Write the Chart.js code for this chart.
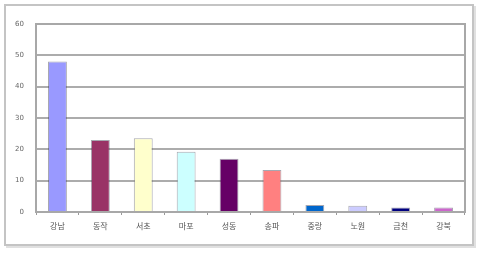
<!DOCTYPE html>
<html><head><meta charset="utf-8">
<script src="https://cdn.jsdelivr.net/npm/chart.js@4"></script>
<style>
html,body{margin:0;padding:0;background:#fff;width:480px;height:253px;overflow:hidden}
#box{position:absolute;left:4px;top:4px;width:466px;height:238px;border:2px solid #c4c4c4;box-shadow:2px 2px 0 #e0e0e0}
#c{position:absolute;left:0;top:0}
</style></head><body>
<div id="box"></div>
<canvas id="c" width="480" height="253"></canvas>
<script>
const categories = ['강남','동작','서초','마포','성동','송파','중랑','노원','금천','강북'];
const values = [48, 23, 23.5, 19.2, 17, 13.4, 2.2, 2, 1.4, 1.4];
const barColors = ['#9999ff','#993366','#ffffcc','#ccffff','#660066','#ff8080','#0066cc','#ccccff','#000080','#cc66cc'];
const yTicks = [0,10,20,30,40,50,60];

const frame = {
  id:'frame',
  afterDraw(chart){
    const a = chart.chartArea, ctx = chart.ctx;
    ctx.save();
    ctx.strokeStyle = '#a8a8a8';
    ctx.lineWidth = 2;
    ctx.strokeRect(a.left, a.top, a.right - a.left, a.bottom - a.top);
    ctx.restore();
  }
};

new Chart(document.getElementById('c'), {
  type:'bar',
  data:{
    labels: categories,
    datasets:[{
      data: values,
      backgroundColor: barColors,
      borderColor: 'rgba(60,60,80,0.45)',
      borderWidth: 1,
      categoryPercentage: 1,
      barPercentage: 0.44
    }]
  },
  options:{
    responsive:false,
    animation:false,
    devicePixelRatio:1,
    layout:{padding:{left:0,right:15,top:24,bottom:0}},
    plugins:{legend:{display:false},tooltip:{enabled:false},title:{display:false}},
    scales:{
      x:{
        grid:{display:true, offset:true, drawOnChartArea:false, tickLength:3, color:'#999', lineWidth:1},
        border:{display:true,color:'#a8a8a8',width:2},
        ticks:{padding:6,color:'#555',font:{family:'"Noto Sans CJK KR"',size:8}},
        afterFit(s){ s.height = 41; }
      },
      y:{
        min:0,max:60,
        afterBuildTicks(s){ s.ticks = yTicks.map(v=>({value:v})); },
        grid:{color:'#acacac',lineWidth:2,drawTicks:false},
        border:{display:true,color:'#a8a8a8',width:2},
        ticks:{padding:12,color:'#666',font:{family:'"DejaVu Sans"',size:7}},
        afterFit(s){ s.width = 36; }
      }
    }
  },
  plugins:[frame]
});
</script>
</body></html>
